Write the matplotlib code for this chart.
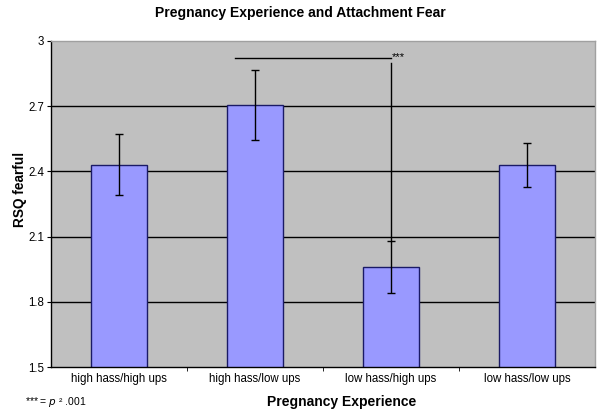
import matplotlib
matplotlib.use("Agg")
import matplotlib.pyplot as plt
from matplotlib.ticker import FixedLocator, NullFormatter

plt.rcParams['font.family'] = ['Liberation Sans', 'DejaVu Sans']

categories = ["high hass/high ups", "high hass/low ups", "low hass/high ups", "low hass/low ups"]
means = [2.43, 2.705, 1.96, 2.43]
errors = [0.14, 0.16, 0.12, 0.10]
yticks = [1.5, 1.8, 2.1, 2.4, 2.7, 3]
ytick_labels = ["1.5", "1.8", "2.1", "2.4", "2.7", "3"]
sig_y = 2.92
sig_x_start = 0.85
sig_x_end = 2
sig_line_top = 2.90

fig = plt.figure(figsize=(6.01, 4.13), dpi=100)
ax = fig.add_axes([51/601, 1-367/413, (595-51)/601, (367-41)/413])
ax.set_facecolor('#C0C0C0')

x = list(range(len(categories)))
ax.set_xlim(-0.5, len(categories) - 0.5)
ax.set_ylim(1.5, 3.0)

for yv in [1.8, 2.1, 2.4, 2.7]:
    ax.axhline(yv, color='black', lw=1.0, zorder=1)

ax.bar(x, means, width=0.41, color='#9999FF', edgecolor='#1a1a66', linewidth=1.0, zorder=2)
ax.errorbar(x, means, yerr=errors, fmt='none', ecolor='black', elinewidth=1.0,
            capsize=3, capthick=1.0, zorder=3)

# significance marker
ax.plot([sig_x_start, sig_x_end], [sig_y, sig_y], color='black', lw=1.0, zorder=3)
ax.plot([sig_x_end, sig_x_end], [means[2] + errors[2], sig_line_top], color='black', lw=1.0, zorder=3)
ax.text(sig_x_end + 0.005, sig_y + 0.005, "***", fontsize=8, ha='left', va='center')

ax.set_yticks(yticks)
ax.set_yticklabels(ytick_labels, fontsize=8.3)
ax.set_xticks(x)
ax.set_xticklabels(categories, fontsize=8.3)
ax.tick_params(axis='x', length=0, pad=4)
ax.xaxis.set_minor_locator(FixedLocator([0.5, 1.5, 2.5]))
ax.xaxis.set_minor_formatter(NullFormatter())
ax.tick_params(axis='x', which='minor', length=3, direction='out', color='black')
ax.tick_params(axis='y', length=3, direction='out', pad=2)

for side in ['top', 'right']:
    ax.spines[side].set_color('#A0A0A0')
    ax.spines[side].set_linewidth(1.0)
for side in ['left', 'bottom']:
    ax.spines[side].set_color('black')
    ax.spines[side].set_linewidth(1.0)

fig.text(0.5, 1-13/413, "Pregnancy Experience and Attachment Fear", ha='center', va='center',
         fontsize=10, fontweight='bold')
fig.text(20/601, 1-189/413, "RSQ fearful", rotation=90, ha='center', va='center',
         fontsize=9.8, fontweight='bold')
fig.text(342/601, 1-402/413, "Pregnancy Experience", ha='center', va='center',
         fontsize=10, fontweight='bold')
fig.text(25/601, 1-402/413, r"*** = $\it{p}$ ² .001", ha='left', va='center', fontsize=7.5)

fig.savefig("out.png", dpi=100)
